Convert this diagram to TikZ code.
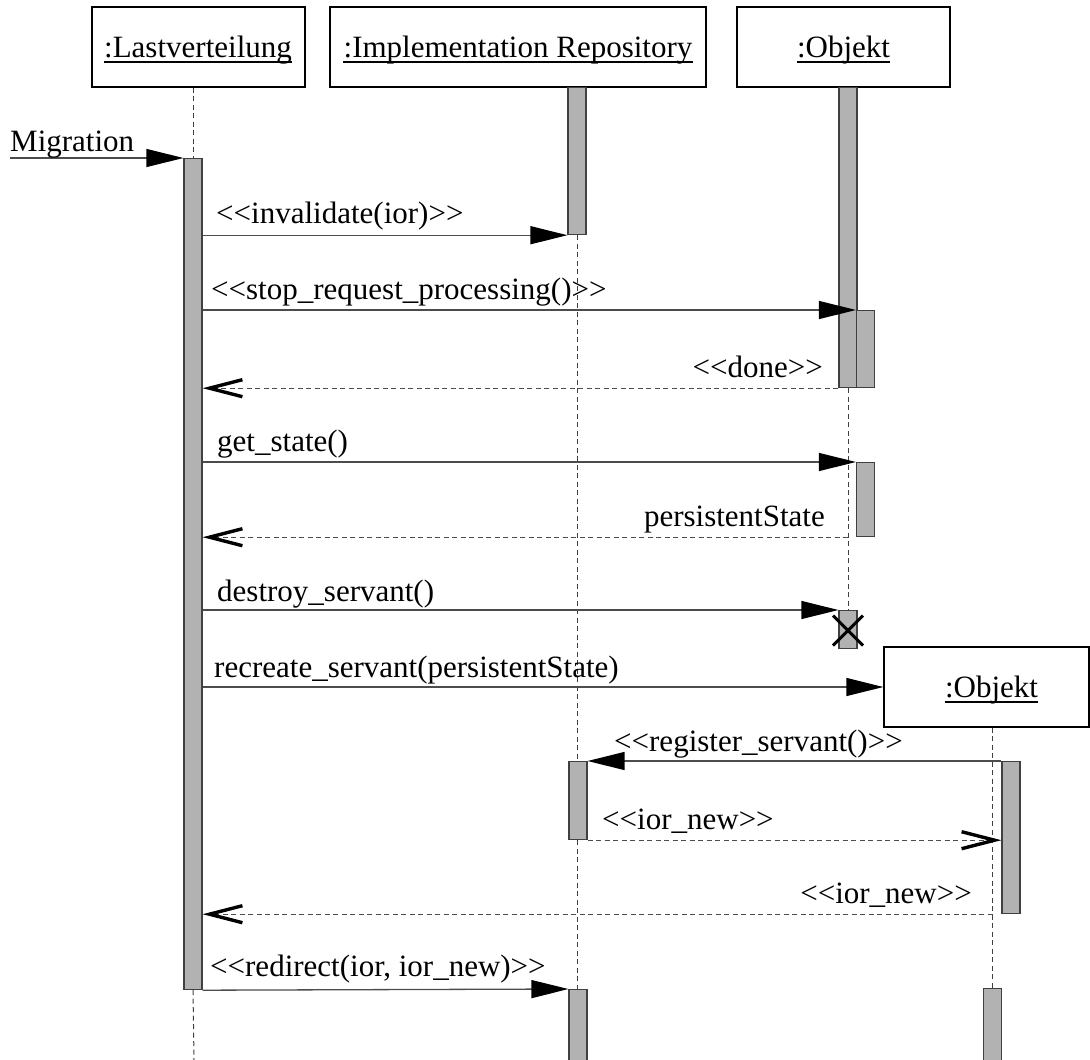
\documentclass[tikz,border=0pt]{standalone}
\usepackage{fontspec}
\setmainfont{Liberation Serif}
\usetikzlibrary{arrows.meta}
% stereotype brackets, kept apart so no ligature forms
\newcommand{\stl}{<\kern0pt<}
\newcommand{\str}{>\kern0pt>}
\begin{document}
\begin{tikzpicture}[x=1pt,y=-1pt,
  txt/.style={inner sep=0pt, font=\fontsize{31}{37}\selectfont},
  objbox/.style={draw=black, line width=1.3pt, rectangle, inner sep=0pt, minimum height=80pt},
  uline/.style={draw=black, line width=1.3pt},
  actbar/.style={draw=black!75, fill=black!30, line width=1.2pt, rectangle, inner sep=0pt,
                 minimum width=18pt, anchor=north},
  lifeline/.style={draw=black!75, line width=1pt, dash pattern=on 5pt off 3.5pt},
  call/.style={draw=black!70, line width=1.3pt,
               -{Triangle[length=37pt,width=18pt,color=black]}},
  reply/.style={draw=black!70, line width=1.1pt, dash pattern=on 5pt off 3.5pt,
                -{Straight Barb[length=33pt,width=17pt,line width=3.4pt,color=black]}},
  cross/.style={draw=black, line width=3pt}]
\useasboundingbox (0,0) rectangle (1090,1060);

% object boxes
\node[objbox, minimum width=213pt] (hL) at (198.5,47) {};
\node[objbox, minimum width=376pt] (hIR) at (518,47) {};
\node[objbox, minimum width=213pt] (hO) at (843.5,47) {};
\node[objbox, minimum width=205pt] (hN) at (986.5,687) {};

\node[txt, anchor=base] (tL) at (198,57.5) {:Lastverteilung};
\node[txt, anchor=base] (tIR) at (518,57.5) {:Implementation Repository};
\node[txt, anchor=base] (tO) at (843.5,57.5) {:Objekt};
\node[txt, anchor=base] (tN) at (991.5,697.5) {:Objekt};
\foreach \t in {tL,tIR,tO,tN}
  \draw[uline] ([yshift=-4.5pt]\t.base west) -- ([yshift=-4.5pt]\t.base east);

% activation bars
\node[actbar, minimum height=831pt] (aL) at (193,158) {};
\node[actbar, minimum height=147pt] (aIR1) at (577,87) {};
\node[actbar, minimum height=78pt] (aIR2) at (578,761) {};
\node[actbar, minimum height=90pt] (aIR3) at (578,989) {};
\node[actbar, minimum height=300pt] (aO1) at (848,87) {};
\node[actbar, minimum height=77pt] (aO2) at (865.5,310) {};
\node[actbar, minimum height=74pt] (aO3) at (865.5,462) {};
\node[actbar, minimum height=38pt] (aOX) at (848,610) {};
\node[actbar, minimum height=152pt] (aN1) at (1011,761) {};
\node[actbar, minimum height=90pt] (aN2) at (992.5,988) {};

% lifelines
\coordinate (endL) at (194,1060);
\draw[lifeline] (aL.north |- hL.south) -- (aL.north);
\draw[lifeline] (aL.south) -- (endL);
\draw[lifeline] (aIR1.south) -- (aIR2.north -| aIR1.south);
\draw[lifeline] (aIR2.south -| aIR1.south) -- (aIR3.north -| aIR1.south);
\draw[lifeline] (aO1.south) -- (aOX.north);
\draw[lifeline] (aN2.north |- hN.south) -- (aN2.north);

% messages
\coordinate (mig) at (10,158);
\draw[call] (mig) -- (aL.north west);
\draw[call] (aL.east |- aIR1.south) -- (aIR1.south west);
\draw[call] (aL.east |- aO2.north) -- (aO2.north west);
\draw[reply] (aO1.south west) -- (aO1.south west -| aL.east);
\draw[call] (aL.east |- aO3.north) -- (aO3.north west);
\draw[reply] (aO1.south |- aO3.south) -- (aL.east |- aO3.south);
\draw[call] (aL.east |- aOX.north) -- (aOX.north west);
\draw[call] (aL.east |- hN.west) -- (hN.west);
\draw[call] (aN1.north west) -- (aN1.north west -| aIR2.east);
\draw[reply] (aIR2.south east) -- (aIR2.south east -| aN1.west);
\draw[reply] (aN2.north |- aN1.south) -- (aL.east |- aN1.south);
\draw[call] (aL.south east) -- (aIR3.north west);

% destruction mark
\draw[cross] ([shift={(-15,-14)}]aOX.center) -- ([shift={(15,16)}]aOX.center);
\draw[cross] ([shift={(-15,16)}]aOX.center) -- ([shift={(15,-14)}]aOX.center);

% message labels
\node[txt, anchor=base west] (l0) at (10,151) {Migration};
\node[txt, anchor=base west] (l1) at (216,223) {\stl invalidate(ior)\str};
\node[txt, anchor=base west] (l2) at (211,299) {\stl stop\_request\_processing()\str};
\node[txt, anchor=base east] (l3) at (823,377) {\stl done\str};
\node[txt, anchor=base west] (l4) at (217,451) {get\_state()};
\node[txt, anchor=base east] (l5) at (825,526) {persistentState};
\node[txt, anchor=base west] (l6) at (217,601) {destroy\_servant()};
\node[txt, anchor=base west] (l7) at (214,677) {recreate\_servant(persistentState)};
\node[txt, anchor=base west] (l8) at (614,751) {\stl register\_servant()\str};
\node[txt, anchor=base west] (l9) at (602,829) {\stl ior\_new\str};
\node[txt, anchor=base east] (l10) at (972,903) {\stl ior\_new\str};
\node[txt, anchor=base west] (l11) at (210,976) {\stl redirect(ior, ior\_new)\str};
\end{tikzpicture}
\end{document}
